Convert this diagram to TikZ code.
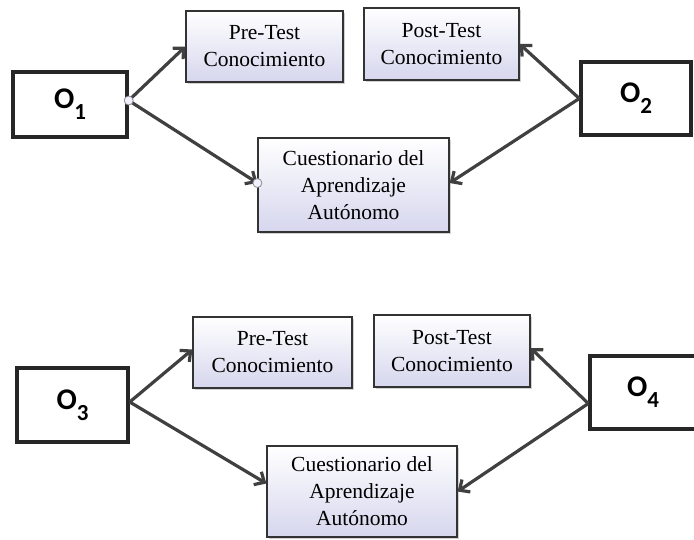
\documentclass[tikz,border=0pt]{standalone}
\usepackage{fontspec}
\setmainfont{Liberation Serif}
\newfontfamily\obsfont{Carlito}
\usetikzlibrary{arrows.meta,positioning,shadows}

% observation label with lowered index
\newcommand{\obslabel}[1]{\obsfont\bfseries O\raisebox{-11pt}{\fontsize{23}{23}\selectfont #1}}

\begin{document}
\begin{tikzpicture}[
              x=1pt, y=-1pt,
              every node/.style={font=\fontsize{21.5}{27}\selectfont, align=center},
              obsbox/.style={draw=black!85, line width=3.4pt, fill=white,
                inner sep=0pt, font=\fontsize{30}{30}\selectfont},
              testbox/.style={draw=black!80, line width=1.2pt, inner sep=0pt,
                top color=white, bottom color={rgb,255:red,214;green,214;blue,238},
                drop shadow={shadow xshift=1.5pt, shadow yshift=-1.5pt, fill=black!35}},
              link/.style={draw=black!75, line width=3.2pt,
                -{Straight Barb[length=8pt, width=15pt]}},
              handle/.style={circle, draw=black!45, fill=blue!6, line width=0.8pt,
                minimum size=9pt, inner sep=0pt}
            ]
            \useasboundingbox (0,0) rectangle (694,539);

            % Upper design: O1 and O2
            \node[obsbox, minimum width=114pt, minimum height=65pt] (O1) at (70,104.5) {\obslabel{1}};
            \node[testbox, minimum width=157pt, minimum height=71pt] (pre1) at (264.5,46.5) {Pre-Test\\Conocimiento};
            \node[testbox, minimum width=155pt, minimum height=72pt] (post1) at (441.5,44) {Post-Test\\Conocimiento};
            \node[testbox, minimum width=191pt, minimum height=94pt] (cues1) at (353.5,185) {Cuestionario del\\Aprendizaje\\Autónomo};
            \node[obsbox, minimum width=110pt, minimum height=73pt] (O2) at (636,98.5) {\obslabel{2}};

            \draw[link] ([yshift=4pt]O1.east) -- (pre1.west);
            \draw[link] ([yshift=4pt]O1.east) -- ([yshift=2pt]cues1.west);
            \draw[link] (O2.west) -- (post1.east);
            \draw[link] (O2.west) -- ([yshift=2pt]cues1.east);
            \node[handle] at ([yshift=4pt]O1.east) {};
            \node[handle] at ([yshift=2pt]cues1.west) {};

            % Lower design: O3 and O4
            \node[obsbox, minimum width=111pt, minimum height=74pt] (O3) at (72.5,405) {\obslabel{3}};
            \node[testbox, minimum width=159pt, minimum height=71pt] (pre2) at (272.5,352.5) {Pre-Test\\Conocimiento};
            \node[testbox, minimum width=156pt, minimum height=72pt] (post2) at (452,351) {Post-Test\\Conocimiento};
            \node[testbox, minimum width=190pt, minimum height=91pt] (cues2) at (362,491.5) {Cuestionario del\\Aprendizaje\\Autónomo};
            \node[obsbox, minimum width=106pt, minimum height=73pt] (O4) at (643,392.5) {\obslabel{4}};

            \draw[link] ([yshift=3pt]O3.east) -- ([yshift=3pt]pre2.west);
            \draw[link] ([yshift=3pt]O3.east) -- ([yshift=8pt]cues2.west);
            \draw[link] ([yshift=-11pt]O4.west) -- ([yshift=3pt]post2.east);
            \draw[link] ([yshift=-11pt]O4.west) -- (cues2.east);
            \end{tikzpicture}
\end{document}
